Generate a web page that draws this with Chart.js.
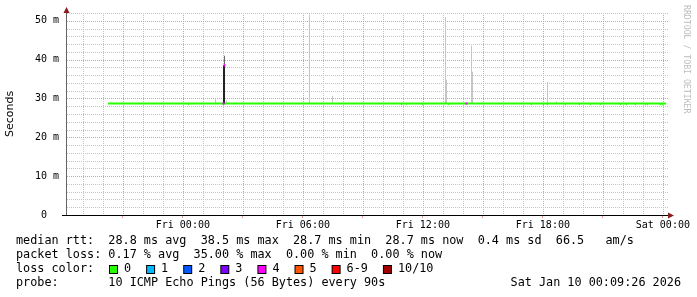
<!DOCTYPE html>
<html>
<head>
<meta charset="utf-8">
<script src="https://cdn.jsdelivr.net/npm/chart.js@4.4.1/dist/chart.umd.min.js"></script>
<style>
  html, body { margin: 0; padding: 0; background: #fff; }
  canvas { display: block; }
</style>
</head>
<body>
<canvas id="chart" width="697" height="297"></canvas>
<script>
/* ============== Data (time = hours relative to Fri 00:00) ============== */

// window: Thu 18:09:26 .. Sat 00:09:26
const timeStart = -5.8428;
const timeEnd = 24.1572;

const hourGrid = [-5, -4, -3, -2, -1, 0, 1, 2, 3, 4, 5, 6, 7, 8, 9, 10, 11, 12,
                  13, 14, 15, 16, 17, 18, 19, 20, 21, 22, 23, 24];
const labelHours = [0, 6, 12, 18, 24];
const labelTexts = ['Fri 00:00', 'Fri 06:00', 'Fri 12:00', 'Fri 18:00', 'Sat 00:00'];

const msGrid = [0, 2, 4, 6, 8, 10, 12, 14, 16, 18, 20, 22, 24, 26, 28, 30, 32, 34,
                36, 38, 40, 42, 44, 46, 48, 50, 52];
const msLabelValues = [0, 10, 20, 30, 40, 50];
const msLabelTexts = ['0  ', '10 m', '20 m', '30 m', '40 m', '50 m'];

// median rtt (ms)
const medianHours = [-3.743, 24.157];
const medianValues = [28.7, 28.7];

// single samples where the median dipped a little
const dipHours = [0.282, 10.932, 11.182, 11.982, 13.282, 17.432, 18.032, 18.232, 19.132,
                  19.832, 20.382, 20.882, 21.882, 22.182, 22.632, 23.132, 23.232, 23.882, 23.982];
const dipValues = [28.4, 28.4, 28.4, 28.4, 28.4, 28.4, 28.4, 28.4, 28.4,
                   28.4, 28.4, 28.4, 28.4, 28.4, 28.4, 28.4, 28.4, 28.4, 28.4];

// smoke (spread of the pings)
const smokeHours = [1.632, 2.182, 6.332, 7.482, 13.132, 13.182, 14.432, 14.482, 18.232, 18.682];
const smokeLow = [28.7, 28.7, 28.7, 28.7, 28.7, 28.7, 28.7, 28.7, 28.7, 28.7];
const smokeHigh = [29.8, 29.5, 51.6, 30.7, 50.9, 34.8, 43.6, 36.9, 34.3, 29.2];

const denseHours = [2.057];
const denseLow = [28.7];
const denseHigh = [38.5];

const spreadHours = [2.082];
const spreadLow = [38.5];
const spreadHigh = [41.0];

// median samples with 4/10 loss
const lossHours = [2.032, 2.082, 14.182];
const lossValues = [28.7, 38.5, 28.7];

// legend
const statsRtt = 'median rtt:  28.8 ms avg  38.5 ms max  28.7 ms min  28.7 ms now  0.4 ms sd  66.5   am/s';
const statsLoss = 'packet loss: 0.17 % avg  35.00 % max  0.00 % min  0.00 % now';
const lossLabels = ['0', '1', '2', '3', '4', '5', '6-9', '10/10'];
const lossColors = ['#26ff00', '#00b8ff', '#0059ff', '#7e00ff', '#ff00ff', '#ff5500', '#ff0000', '#a10000'];
const probeText = 'probe:       10 ICMP Echo Pings (56 Bytes) every 90s';
const stampText = 'Sat Jan 10 00:09:26 2026';

/* ============== Helpers ============== */

function points(xs, ys) {
    return xs.map((x, i) => ({x: x, y: ys[i]}));
}

function ranges(xs, lo, hi) {
    return xs.map((x, i) => ({x: x, y: [lo[i], hi[i]]}));
}

function isMultiple(value, step) {
    return Math.abs(Math.round(value) % step) === 0;
}

const MONO = '"DejaVu Sans Mono", monospace';
const MINOR = '#c4c4c4';
const MAJOR = '#e89a9a';

/**
 * Dotted rrdtool style grid, one pixel on / one off, placed with the chart's own scales.
 */
const dottedGrid = {
    id: 'dottedGrid',
    beforeDatasetsDraw(chart) {
        const ctx = chart.ctx;
        const area = chart.chartArea;
        const xs = chart.scales.x;
        const ys = chart.scales.y;
        ctx.save();
        hourGrid.forEach(h => {
            const px = Math.round(xs.getPixelForValue(h));
            ctx.fillStyle = isMultiple(h, 3) ? MAJOR : MINOR;
            for (let y = Math.round(area.top); y < area.bottom; y += 2) {
                ctx.fillRect(px, y, 1, 1);
            }
        });
        msGrid.forEach(v => {
            if (v === 0) return;
            const py = Math.round(ys.getPixelForValue(v));
            ctx.fillStyle = isMultiple(v, 10) ? MAJOR : MINOR;
            for (let x = Math.round(area.left) + 1; x < area.right + 2; x += 2) {
                ctx.fillRect(x, py, 1, 1);
            }
        });
        ctx.restore();
    }
};

/**
 * Draws the arrows, the watermark and the text legend under the graph.
 */
const decorations = {
    id: 'decorations',
    afterDraw(chart) {
        const ctx = chart.ctx;
        const area = chart.chartArea;
        ctx.save();

        // x axis runs a bit past the plot on both sides
        ctx.fillStyle = '#000';
        ctx.fillRect(62, area.bottom, 608, 1);

        ctx.fillStyle = '#8b1c1c';
        ctx.beginPath();
        ctx.moveTo(area.left + 0.5, area.top - 6);
        ctx.lineTo(area.left - 2.5, area.top);
        ctx.lineTo(area.left + 3.5, area.top);
        ctx.fill();
        ctx.beginPath();
        ctx.moveTo(674, area.bottom + 0.5);
        ctx.lineTo(668, area.bottom - 2.5);
        ctx.lineTo(668, area.bottom + 3.5);
        ctx.fill();

        // watermark
        ctx.save();
        ctx.translate(686, 5);
        ctx.rotate(Math.PI / 2);
        ctx.font = '8.2px ' + MONO;
        ctx.fillStyle = '#bdbdbd';
        ctx.textBaseline = 'middle';
        ctx.fillText('RRDTOOL / TOBI OETIKER', 0, 0);
        ctx.restore();

        // legend
        ctx.font = '11.8px ' + MONO;
        ctx.fillStyle = '#000';
        ctx.textBaseline = 'middle';
        ctx.textAlign = 'left';
        ctx.fillText(statsRtt, 16, 241);
        ctx.fillText(statsLoss, 16, 255);
        ctx.fillText('loss color:', 16, 269);
        ctx.fillText(probeText, 16, 283);
        ctx.textAlign = 'right';
        ctx.fillText(stampText, 681, 283);
        ctx.textAlign = 'left';

        let x = 109;
        lossLabels.forEach((label, i) => {
            ctx.fillStyle = '#000';
            ctx.fillRect(x, 265, 9, 9);
            ctx.fillStyle = lossColors[i];
            ctx.fillRect(x + 1, 266, 7, 7);
            ctx.fillStyle = '#000';
            ctx.fillText(label, x + 15, 269);
            x = x + 15 + ctx.measureText(label).width + 15;
        });
        ctx.restore();
    }
};

/* ============== Chart ============== */

const smokeBar = {
    type: 'bar',
    grouped: false,
    barThickness: 1,
    borderWidth: 0,
    inflateAmount: 0
};

new Chart(document.getElementById('chart'), {
    type: 'line',
    data: {
        datasets: [
            Object.assign({}, smokeBar, {
                data: ranges(smokeHours, smokeLow, smokeHigh),
                backgroundColor: '#c6c6c6',
                order: 5
            }),
            {
                type: 'line',
                data: points(medianHours, medianValues),
                borderColor: '#26ff00',
                borderWidth: 2,
                pointRadius: 0,
                order: 4
            },
            {
                type: 'line',
                data: points(dipHours, dipValues),
                showLine: false,
                pointStyle: 'rect',
                pointRadius: 0.8,
                pointBackgroundColor: '#26ff00',
                pointBorderWidth: 0,
                order: 4
            },
            Object.assign({}, smokeBar, {
                data: ranges(denseHours, denseLow, denseHigh),
                backgroundColor: '#222222',
                barThickness: 2,
                order: 3
            }),
            Object.assign({}, smokeBar, {
                data: ranges(spreadHours, spreadLow, spreadHigh),
                backgroundColor: '#6a6a6a',
                order: 3
            }),
            {
                type: 'line',
                data: points(lossHours, lossValues),
                showLine: false,
                pointStyle: 'rect',
                pointRadius: 1.5,
                pointBackgroundColor: '#ff00ff',
                pointBorderWidth: 0,
                order: 1
            }
        ]
    },
    options: {
        responsive: false,
        animation: false,
        events: [],
        layout: {padding: {top: 13, right: 31, left: 0, bottom: 0}},
        plugins: {legend: {display: false}, tooltip: {enabled: false}},
        scales: {
            x: {
                type: 'linear',
                min: timeStart,
                max: timeEnd,
                offset: false,
                afterBuildTicks: scale => { scale.ticks = hourGrid.map(v => ({value: v})); },
                afterFit: scale => { scale.height = 82; },
                ticks: {
                    autoSkip: false,
                    maxRotation: 0,
                    padding: 1,
                    color: '#000',
                    font: {family: MONO, size: 10},
                    callback: v => {
                        const i = labelHours.indexOf(v);
                        return i < 0 ? '' : labelTexts[i];
                    }
                },
                grid: {
                    offset: false,
                    drawOnChartArea: false,
                    lineWidth: 1,
                    tickLength: 3,
                    tickColor: c => (c.tick && isMultiple(c.tick.value, 3)) ? MAJOR : 'rgba(0,0,0,0)'
                },
                border: {display: true, color: '#000'}
            },
            y: {
                type: 'linear',
                min: 0,
                max: 52,
                afterBuildTicks: scale => { scale.ticks = msGrid.map(v => ({value: v})); },
                afterFit: scale => { scale.width = 66; },
                ticks: {
                    autoSkip: false,
                    padding: 7,
                    color: '#000',
                    font: {family: MONO, size: 10},
                    callback: v => {
                        const i = msLabelValues.indexOf(v);
                        return i < 0 ? '' : msLabelTexts[i];
                    }
                },
                grid: {
                    drawOnChartArea: false,
                    drawTicks: false
                },
                border: {display: true, color: '#666'},
                title: {
                    display: true,
                    text: 'Seconds',
                    color: '#000',
                    font: {family: '"DejaVu Sans", sans-serif', size: 11},
                    padding: {top: 4, bottom: 0}
                }
            }
        }
    },
    plugins: [dottedGrid, decorations]
});
</script>
</body>
</html>
